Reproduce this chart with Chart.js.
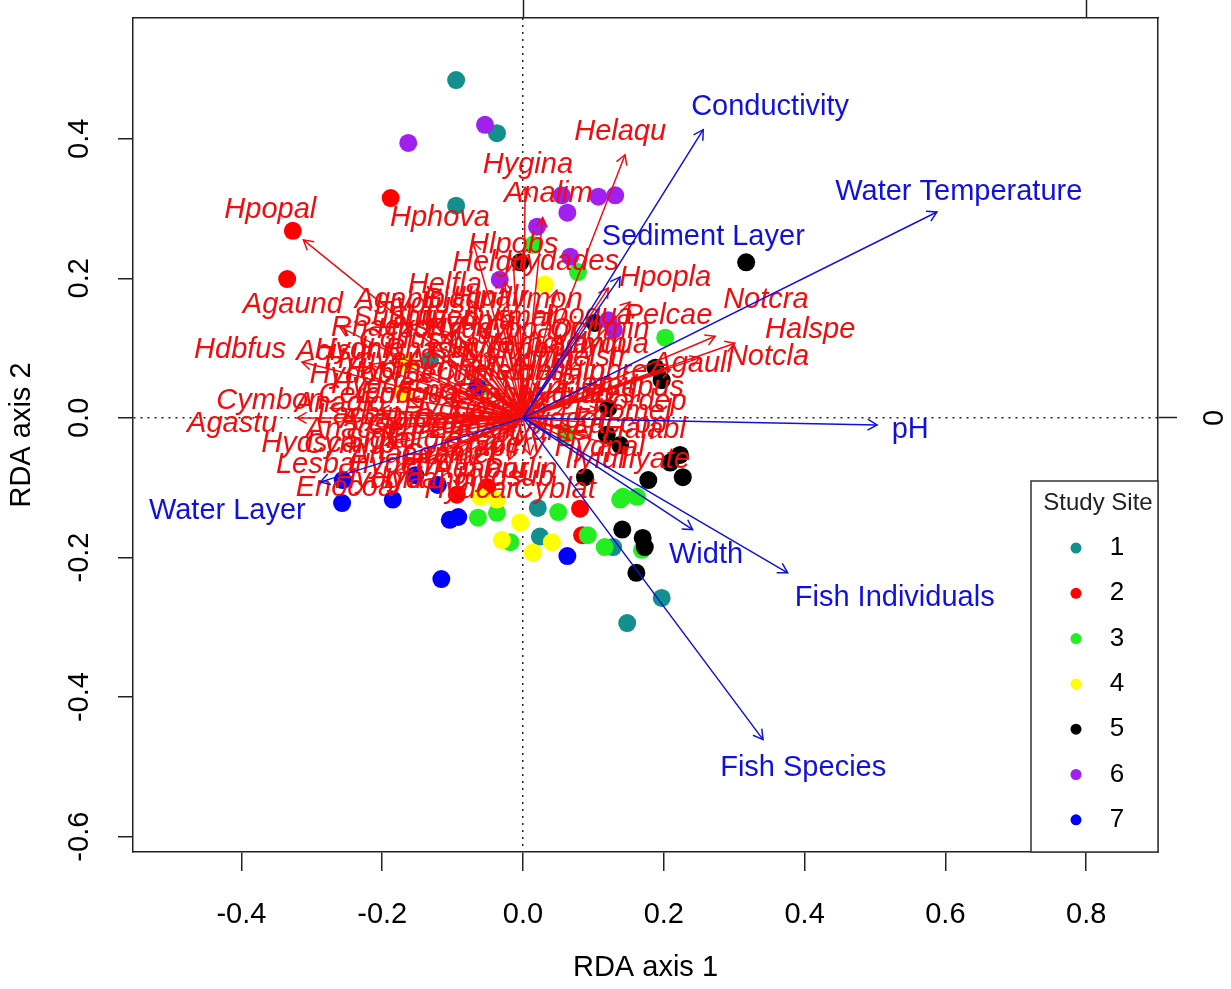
<!DOCTYPE html>
<html>
<head>
<meta charset="utf-8">
<script src="https://cdn.jsdelivr.net/npm/chart.js@4.4.0/dist/chart.umd.min.js"></script>
<style>
  html, body { margin: 0; padding: 0; background: #fff; }
  #wrap { width: 1231px; height: 989px; }
</style>
</head>
<body>
<div id="wrap"><canvas id="chart-rda" width="1231" height="989"></canvas></div>
<script>
// ==================== DATA ====================

// axis ranges and ticks (RDA axis 1 / axis 2)
const xRange = [-0.554, 0.902];
const yRange = [-0.622, 0.573];
const xTicks = [-0.4, -0.2, 0, 0.2, 0.4, 0.6, 0.8];
const yTicks = [-0.6, -0.4, -0.2, 0, 0.2, 0.4];
const topTicks = [0, 0.8];
const rightTicks = [0];

// site scores, one pair of arrays per study site
const siteLabels = ['1', '2', '3', '4', '5', '6', '7'];
const siteColors = ['#13908e', '#ff0000', '#22ee22', '#ffff00', '#000000', '#a020f0', '#0000ff'];

const site1X = [-0.095, -0.037, -0.095, -0.132, 0.021, 0.024, 0.148, 0.197, 0.128];
const site1Y = [0.484, 0.408, 0.304, 0.083, -0.129, -0.170, -0.294, -0.258, -0.185];
const site2X = [-0.188, -0.327, -0.335, -0.094, 0.081, 0.084, -0.051];
const site2Y = [0.315, 0.268, 0.199, -0.110, -0.130, -0.168, -0.099];
const site3X = [0.014, 0.078, 0.202, 0.060, 0.142, 0.162, 0.050, 0.092, -0.018, 0.169, -0.064, -0.037, 0.138, 0.116, -0.061];
const site3Y = [0.248, 0.209, 0.115, -0.024, -0.113, -0.113, -0.135, -0.168, -0.178, -0.189, -0.143, -0.136, -0.117, -0.185, 0.043];
const site4X = [0.031, -0.165, -0.170, -0.061, -0.037, -0.004, -0.030, 0.041, 0.014];
const site4Y = [0.191, 0.079, 0.037, -0.113, -0.117, -0.150, -0.175, -0.178, -0.193];
const site5X = [0.317, 0.102, 0.188, 0.197, 0.121, 0.119, 0.138, 0.223, 0.209, 0.227, 0.178, 0.088, 0.141, 0.170, 0.173, 0.161, -0.004];
const site5Y = [0.223, 0.136, 0.072, 0.054, 0.014, -0.024, -0.039, -0.053, -0.064, -0.085, -0.089, -0.085, -0.160, -0.172, -0.185, -0.222, 0.223];
const site6X = [-0.054, -0.163, 0.055, 0.107, 0.131, 0.063, 0.020, 0.067, -0.033, 0.121, 0.129];
const site6Y = [0.420, 0.394, 0.319, 0.317, 0.319, 0.294, 0.274, 0.231, 0.198, 0.140, 0.126];
const site7X = [-0.256, -0.257, -0.185, -0.153, -0.104, -0.092, -0.116, 0.063, -0.121, -0.065];
const site7Y = [-0.089, -0.122, -0.117, -0.082, -0.146, -0.142, -0.231, -0.198, -0.096, 0.044];

const siteXs = [site1X, site2X, site3X, site4X, site5X, site6X, site7X];
const siteYs = [site1Y, site2Y, site3Y, site4Y, site5Y, site6Y, site7Y];

// species scores (arrow tips) and label positions
const speciesNames = [
  'Hpopal', 'Agaund', 'Hdbfus', 'Agastu', 'Cymbon', 'Acisul', 'Hydsca', 'Anacae', 'Lesbar', 'Enocoa',
  'Hydcar', 'Cyblat', 'Ilyful', 'Ilyate', 'Grabil', 'Hydsub', 'Notcra', 'Halspe', 'Notcla', 'Agauli',
  'Pelcae', 'Hpopla', 'Helaqu', 'Hygina', 'Analim', 'Hphova', 'Hlpobs', 'Helgri', 'Hydades', 'Helfla',
  'Agabip', 'Suphrn', 'Hlpalr', 'Dytmar', 'Hpoqua', 'Hporuf', 'Anaglo', 'Hydpus', 'Enomel', 'Laccop',
  'Halabl', 'Colfus', 'Rhasut', 'Rhafre', 'Hygimp', 'Hypova', 'Lacmin', 'Ilyqua', 'Hydmin', 'Berlur',
  'Chaiss', 'Helobs', 'Helmin', 'Hlpbre', 'Enoqua', 'Enotes', 'Enohal', 'Anabip', 'Cymcoa', 'Corpun',
  'Sigfal', 'Notgla', 'Gramet', 'Hydeth', 'Hydang', 'Hydtri', 'Porlin', 'Hygdec', 'Sutver', 'Bidgri',
  'Hydgyl', 'Copagi', 'Hydinc', 'Hydtes', 'Pordep', 'Hydpal', 'Hydery', 'Hydmel', 'Cercon', 'Hydnig',
  'Hydobl', 'Hydfus', 'Ilymon', 'Rhaexs', 'Hydpla', 'Ochmin', 'Hygver', 'Acican', 'Hydlim', 'Helstr',
  'Lacbip', 'Hydrip', 'Anaaen', 'Enoafi', 'Cymrip', 'Hyddor', 'Plemin', 'Gyrsub', 'Agabru', 'Hydgla'
];
const speciesX = [
  -0.312, -0.260, -0.314, -0.321, -0.274, -0.217, -0.224, -0.190, -0.196, -0.182,
  -0.075, 0.010, 0.067, 0.124, -0.061, -0.020, 0.273, 0.301, 0.251, 0.209,
  0.152, 0.121, 0.145, 0.003, 0.028, -0.071, -0.014, -0.026, 0.048, -0.075,
  -0.132, -0.118, -0.033, -0.004, 0.053, -0.104, -0.203, 0.109, 0.095, 0.088,
  0.095, -0.104, -0.082, -0.047, -0.026, 0.010, 0.045, 0.081, -0.118, -0.075,
  -0.040, -0.011, 0.031, 0.074, -0.104, -0.068, -0.033, -0.132, -0.097, -0.054,
  -0.139, -0.097, -0.075, -0.118, -0.097, -0.061, -0.011, -0.132, -0.089, -0.061,
  -0.054, -0.004, 0.038, 0.060, 0.109, 0.067, -0.026, 0.024, -0.161, -0.168,
  -0.175, -0.097, 0.017, -0.132, -0.047, 0.067, -0.146, -0.068, 0.003, 0.060,
  -0.161, -0.075, -0.111, -0.047, -0.175, 0.031, 0.074, -0.026, -0.040, -0.139
];
const speciesY = [
  0.255, 0.130, 0.080, 0.000, 0.014, 0.076, -0.017, -0.010, -0.039, -0.077,
  -0.067, -0.053, -0.032, -0.039, -0.024, -0.060, 0.117, 0.107, 0.086, 0.069,
  0.166, 0.186, 0.377, 0.330, 0.287, 0.252, 0.224, 0.195, 0.183, 0.169,
  0.140, 0.126, 0.152, 0.133, 0.119, 0.105, 0.011, 0.033, 0.009, -0.006,
  -0.027, 0.076, 0.069, 0.069, 0.062, 0.062, 0.069, 0.062, 0.047, 0.040,
  0.037, 0.037, 0.037, 0.037, 0.019, 0.019, 0.014, 0.000, -0.003, -0.003,
  -0.020, -0.020, -0.032, -0.046, -0.060, -0.046, -0.039, 0.033, 0.112, 0.126,
  0.090, 0.090, 0.019, 0.019, 0.011, -0.017, -0.020, -0.014, 0.026, 0.076,
  0.047, 0.126, 0.126, 0.097, 0.105, 0.097, 0.062, 0.054, 0.047, 0.054,
  0.004, 0.009, -0.032, -0.010, -0.024, 0.000, 0.029, 0.009, -0.049, -0.064
];
const speciesLabelX = [
  -0.359, -0.327, -0.402, -0.413, -0.359, -0.267, -0.303, -0.239, -0.288, -0.253,
  -0.075, 0.045, 0.102, 0.188, -0.061, -0.026, 0.345, 0.408, 0.348, 0.241,
  0.206, 0.202, 0.138, 0.007, 0.036, -0.118, -0.014, -0.047, 0.055, -0.111,
  -0.175, -0.175, -0.047, -0.018, 0.084, -0.146, -0.260, 0.159, 0.141, 0.138,
  0.173, -0.175, -0.132, -0.075, -0.033, 0.024, 0.081, 0.124, -0.182, -0.118,
  -0.061, -0.004, 0.053, 0.116, -0.161, -0.104, -0.040, -0.196, -0.146, -0.089,
  -0.203, -0.146, -0.104, -0.182, -0.146, -0.118, -0.004, -0.203, -0.132, -0.089,
  -0.075, 0.010, 0.053, 0.095, 0.166, 0.109, -0.033, 0.031, -0.224, -0.232,
  -0.239, -0.146, 0.024, -0.203, -0.075, 0.109, -0.217, -0.104, 0.010, 0.095,
  -0.232, -0.111, -0.175, -0.075, -0.246, 0.053, 0.109, -0.033, -0.061, -0.203
];
const speciesLabelY = [
  0.298, 0.162, 0.097, -0.009, 0.024, 0.095, -0.037, -0.017, -0.067, -0.100,
  -0.103, -0.103, -0.060, -0.060, -0.043, -0.086, 0.169, 0.126, 0.087, 0.077,
  0.146, 0.201, 0.410, 0.362, 0.321, 0.287, 0.248, 0.222, 0.223, 0.191,
  0.169, 0.143, 0.172, 0.143, 0.146, 0.126, 0.020, 0.043, 0.009, -0.010,
  -0.017, 0.112, 0.097, 0.105, 0.097, 0.105, 0.105, 0.105, 0.069, 0.062,
  0.066, 0.066, 0.066, 0.066, 0.033, 0.037, 0.033, -0.003, -0.010, -0.003,
  -0.032, -0.032, -0.053, -0.067, -0.089, -0.063, -0.074, 0.047, 0.143, 0.169,
  0.126, 0.126, 0.033, 0.033, 0.023, -0.043, -0.039, -0.020, 0.033, 0.097,
  0.062, 0.162, 0.169, 0.129, 0.138, 0.126, 0.083, 0.083, 0.083, 0.086,
  0.004, 0.011, -0.053, -0.017, -0.039, -0.003, 0.047, 0.011, -0.074, -0.089
];

// environmental variables (biplot arrows)
const envNames = ['Conductivity', 'Water Temperature', 'Sediment Layer', 'pH', 'Width', 'Fish Individuals', 'Fish Species', 'Water Layer'];
const envX = [0.256, 0.588, 0.138, 0.503, 0.241, 0.376, 0.341, -0.288];
const envY = [0.413, 0.295, 0.202, -0.010, -0.160, -0.222, -0.461, -0.092];
const envLabelX = [0.351, 0.619, 0.256, 0.550, 0.260, 0.528, 0.398, -0.420];
const envLabelY = [0.446, 0.324, 0.259, -0.017, -0.196, -0.258, -0.501, -0.133];

// ==================== STYLE ====================

const FONT_FAMILY = "'Liberation Sans', Arial, Helvetica, sans-serif";
const AXIS_FONT = { family: FONT_FAMILY, size: 29 };
const SPECIES_COLOR = '#f20c0c';
const ENV_COLOR = '#1111dd';

// ==================== HELPERS ====================

function arrowData(xs, ys) {
  const out = [];
  xs.forEach((v, i) => {
    out.push({ x: 0, y: 0 }, { x: v, y: ys[i] }, { x: null, y: null });
  });
  return out;
}

function drawArrowHead(ctx, x0, y0, x1, y1, len, color, width) {
  const a = Math.atan2(y1 - y0, x1 - x0);
  ctx.save();
  ctx.strokeStyle = color;
  ctx.lineWidth = width;
  ctx.beginPath();
  ctx.moveTo(x1 - len * Math.cos(a - Math.PI / 6), y1 - len * Math.sin(a - Math.PI / 6));
  ctx.lineTo(x1, y1);
  ctx.lineTo(x1 - len * Math.cos(a + Math.PI / 6), y1 - len * Math.sin(a + Math.PI / 6));
  ctx.stroke();
  ctx.restore();
}

const zeroLine = (ctx) => (ctx.tick && ctx.tick.value === 0 ? '#222' : 'rgba(0,0,0,0)');

// keep the plot box where R puts it: no extra room for overhanging labels
const noPadV = (s) => { s.paddingTop = 0; s.paddingBottom = 0; };
const noPadH = (s) => { s.paddingLeft = 0; s.paddingRight = 0; };

// arrow heads + text labels, drawn right after their own dataset
const biplotLabels = {
  id: 'biplotLabels',
  afterDatasetDraw(chart, args) {
    const ds = chart.data.datasets[args.index];
    if (!ds.arrowNames) return;
    const { ctx, scales: { x, y } } = chart;
    const pts = args.meta.data;
    ds.arrowNames.forEach((n, i) => {
      const o = pts[3 * i], t = pts[3 * i + 1];
      drawArrowHead(ctx, o.x, o.y, t.x, t.y, 11, ds.borderColor, ds.borderWidth);
    });
    ctx.save();
    ctx.font = ds.labelFont;
    ctx.fillStyle = ds.borderColor;
    ctx.textAlign = 'center';
    ctx.textBaseline = 'middle';
    ds.arrowNames.forEach((n, i) => {
      ctx.fillText(n, x.getPixelForValue(ds.labelX[i]), y.getPixelForValue(ds.labelY[i]));
    });
    ctx.restore();
  }
};

// R-style legend box in the bottom right corner
const siteLegend = {
  id: 'siteLegend',
  afterDraw(chart) {
    const { ctx, chartArea: a } = chart;
    const w = 127, h = 371, rowH = 45.3;
    const left = a.right - w, top = a.bottom - h;
    ctx.save();
    ctx.fillStyle = '#fff';
    ctx.fillRect(left, top, w, h);
    ctx.strokeStyle = '#333';
    ctx.lineWidth = 1.5;
    ctx.strokeRect(left, top, w, h);
    ctx.fillStyle = '#222';
    ctx.textAlign = 'center';
    ctx.textBaseline = 'middle';
    ctx.font = `24px ${FONT_FAMILY}`;
    ctx.fillText('Study Site', left + 67, top + 22);
    ctx.font = `26px ${FONT_FAMILY}`;
    siteLabels.forEach((lab, i) => {
      const cy = top + 67 + i * rowH;
      ctx.fillStyle = siteColors[i];
      ctx.beginPath();
      ctx.arc(left + 45, cy, 5.5, 0, Math.PI * 2);
      ctx.fill();
      ctx.fillStyle = '#000';
      ctx.fillText(lab, left + 86, cy);
    });
    ctx.restore();
  }
};

// ==================== CHART ====================

const siteDatasets = siteLabels.map((lab, i) => ({
  label: lab,
  data: siteXs[i].map((v, j) => ({ x: v, y: siteYs[i][j] })),
  backgroundColor: siteColors[i],
  borderWidth: 0,
  pointRadius: 9,
  pointHoverRadius: 9,
  order: 20 - i
}));

const speciesDataset = {
  label: 'species',
  data: arrowData(speciesX, speciesY),
  showLine: true,
  borderColor: SPECIES_COLOR,
  borderWidth: 1.5,
  pointRadius: 0,
  order: 5,
  arrowNames: speciesNames,
  labelX: speciesLabelX,
  labelY: speciesLabelY,
  labelFont: `italic 29px ${FONT_FAMILY}`
};

const envDataset = {
  label: 'env',
  data: arrowData(envX, envY),
  showLine: true,
  borderColor: ENV_COLOR,
  borderWidth: 1.5,
  pointRadius: 0,
  order: 1,
  arrowNames: envNames,
  labelX: envLabelX,
  labelY: envLabelY,
  labelFont: `29px ${FONT_FAMILY}`
};

new Chart(document.getElementById('chart-rda'), {
  type: 'scatter',
  data: { datasets: [...siteDatasets, speciesDataset, envDataset] },
  options: {
    responsive: false,
    devicePixelRatio: 1,
    animation: false,
    events: [],
    layout: { padding: 0 },
    plugins: { legend: { display: false }, tooltip: { enabled: false } },
    scales: {
      x: {
        type: 'linear', position: 'bottom', min: xRange[0], max: xRange[1],
        afterBuildTicks: (s) => { s.ticks = xTicks.map(v => ({ value: v })); },
        afterFit: (s) => { s.height = 137; noPadH(s); },
        ticks: { font: AXIS_FONT, color: '#000', padding: 27, maxRotation: 0, callback: v => v.toFixed(1) },
        grid: { color: zeroLine, lineWidth: 1.5, tickColor: '#222', tickWidth: 1.5, tickLength: 19 },
        border: { color: '#222', width: 1.5, dash: [2, 5] },
        title: { display: true, text: 'RDA axis 1', font: AXIS_FONT, color: '#000', padding: { top: 0, bottom: 4 } }
      },
      y: {
        type: 'linear', position: 'left', min: yRange[0], max: yRange[1],
        afterBuildTicks: (s) => { s.ticks = yTicks.map(v => ({ value: v })); },
        afterFit: (s) => { s.width = 133; noPadV(s); },
        ticks: { font: AXIS_FONT, color: '#000', padding: 13, minRotation: 90, maxRotation: 90, crossAlign: 'center', callback: v => v.toFixed(1) },
        grid: { color: zeroLine, lineWidth: 1.5, tickColor: '#222', tickWidth: 1.5, tickLength: 15 },
        border: { color: '#222', width: 1.5, dash: [2, 5] },
        title: { display: true, text: 'RDA axis 2', font: AXIS_FONT, color: '#000', padding: { top: 5, bottom: 0 } }
      },
      xTop: {
        axis: 'x', type: 'linear', position: 'top', min: xRange[0], max: xRange[1],
        afterBuildTicks: (s) => { s.ticks = topTicks.map(v => ({ value: v })); },
        afterFit: (s) => { s.height = 18; noPadH(s); },
        ticks: { display: false },
        grid: { drawOnChartArea: false, tickColor: '#222', tickWidth: 1.5, tickLength: 18 },
        border: { color: '#222', width: 1.5 }
      },
      yRight: {
        axis: 'y', type: 'linear', position: 'right', min: yRange[0], max: yRange[1],
        afterBuildTicks: (s) => { s.ticks = rightTicks.map(v => ({ value: v })); },
        afterFit: (s) => { s.width = 73; noPadV(s); },
        ticks: { font: AXIS_FONT, color: '#000', padding: 30, minRotation: 90, maxRotation: 90, crossAlign: 'center', callback: v => String(v) },
        grid: { drawOnChartArea: false, tickColor: '#222', tickWidth: 1.5, tickLength: 19 },
        border: { color: '#222', width: 1.5 }
      }
    }
  },
  plugins: [biplotLabels, siteLegend]
});
</script>
</body>
</html>
